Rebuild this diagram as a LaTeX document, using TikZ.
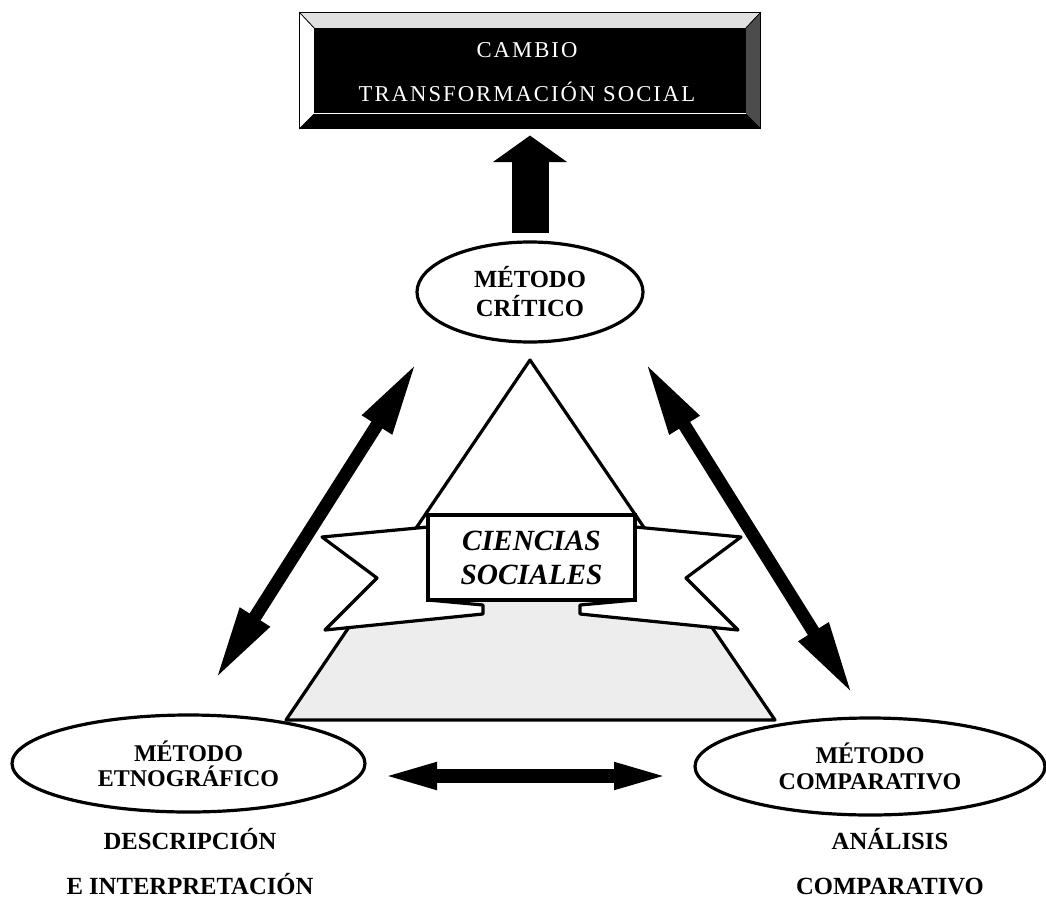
\documentclass[tikz,border=0pt]{standalone}
\usepackage{fontspec}
\setmainfont{Liberation Serif}
\newfontfamily\cadrefont[LetterSpace=9]{Liberation Serif}
\usetikzlibrary{shapes.geometric,arrows.meta}

\tikzset{
  metodo/.style={ellipse, draw, line width=2.4pt, fill=white, align=center,
    inner sep=0pt, font=\bfseries\fontsize{18}{19}\selectfont},
  etiqueta/.style={align=center, font=\bfseries\fontsize{18.5}{33.75}\selectfont},
  cadre/.style={draw, line width=0.8pt, fill=black, inner sep=0pt,
    minimum width=345pt, minimum height=86.25pt},
  titrecadre/.style={align=center, text=white, font=\cadrefont\fontsize{17}{33}\selectfont},
  ruban/.style={draw, line width=2.4pt, fill=white, line join=round},
  cartouche/.style={draw, line width=2.4pt, fill=white, inner sep=0pt,
    minimum width=155.25pt, minimum height=63.75pt, align=center,
    font=\bfseries\itshape\fontsize{22}{25.5}\selectfont},
  flechedouble/.style={line width=9.75pt,
    {Triangle[length=56pt,width=24pt]}-{Triangle[length=56pt,width=24pt]}},
  flechebas/.style={line width=10.5pt,
    {Triangle[length=48pt,width=17pt]}-{Triangle[length=48pt,width=17pt]}},
  flechehaut/.style={line width=27.75pt, -{Triangle[length=20pt,width=55pt]},
    shorten <=5.25pt, shorten >=5.25pt}
}

\begin{document}
\begin{tikzpicture}[x=0.75pt,y=-0.75pt]
    \useasboundingbox (0,0) rectangle (1046,903);
    % Triangle
    \coordinate (sommet) at (530,360);
    \coordinate (basegauche) at (286,720);
    \coordinate (basedroite) at (775,720);
    \begin{scope}
      \clip (sommet) -- (basegauche) -- (basedroite) -- cycle;
      \fill[black!7] (250,600) rectangle (800,720);
    \end{scope}
    \draw[line width=2.4pt, line join=round] (sommet) -- (basegauche) -- (basedroite) -- cycle;
    % Ruban
    \draw[ruban] (428,527) -- (322,537) -- (377,578) -- (325,630) -- (483,614) -- (483,605) -- (428,600);
    \draw[ruban] (635,527) -- (741,537) -- (686,578) -- (738,630) -- (580,614) -- (580,605) -- (635,600);
    \node[cartouche] (ciencias) at (531.5,557.5) {CIENCIAS\\SOCIALES};
    % Ellipses
    \node[metodo, minimum width=169.5pt, minimum height=75pt, font=\bfseries\fontsize{18.5}{21.75}\selectfont]
      (critico) at (530,292) {MÉTODO\\CRÍTICO};
    \node[metodo, minimum width=264.75pt, minimum height=72.75pt] (etno) at (188.5,763.5) {MÉTODO\\ETNOGRÁFICO};
    \node[metodo, minimum width=262.5pt, minimum height=72.75pt] (comp) at (870,766.5) {MÉTODO\\COMPARATIVO};
    % Cadre du haut
    \node[cadre] (cambio) at (530,70.5) {};
    \fill[black!12, draw=black, line width=0.5pt] (cambio.north west) -- (cambio.north east)
      -- ([shift={(-15,16)}]cambio.north east) -- ([shift={(15,16)}]cambio.north west) -- cycle;
    \fill[white, draw=black, line width=0.5pt] (cambio.north west) -- ([shift={(15,16)}]cambio.north west)
      -- ([shift={(15,-15)}]cambio.south west) -- (cambio.south west) -- cycle;
    \fill[black!70, draw=black, line width=0.5pt] (cambio.north east) -- ([shift={(-15,16)}]cambio.north east)
      -- ([shift={(-15,-15)}]cambio.south east) -- (cambio.south east) -- cycle;
    \fill[black] (cambio.south west) -- ([shift={(15,-15)}]cambio.south west)
      -- ([shift={(-15,-15)}]cambio.south east) -- (cambio.south east) -- cycle;
    \draw[white, line width=0.8pt] ([shift={(15,-15)}]cambio.south west) -- ([shift={(-15,-15)}]cambio.south east);
    \draw[line width=0.8pt] (cambio.north west) rectangle (cambio.south east);
    \node[titrecadre] (titre) at (527,72) {CAMBIO\\TRANSFORMACIÓN SOCIAL};
    % Fleches
    \draw[flechehaut] (critico) -- (cambio);
    \coordinate (g1) at (215,680);
    \coordinate (g2) at (417,362);
    \coordinate (d1) at (645,362);
    \coordinate (d2) at (853,695);
    \coordinate (b1) at (373,776);
    \coordinate (b2) at (678,776);
    \draw[flechedouble] (g1) -- (g2);
    \draw[flechedouble] (d1) -- (d2);
    \draw[flechebas] (b1) -- (b2);
    % Textes
    \node[etiqueta] (descripcion) at (190,862) {DESCRIPCIÓN\\E INTERPRETACIÓN};
    \node[etiqueta] (analisis) at (890,862) {ANÁLISIS\\COMPARATIVO};
\end{tikzpicture}
\end{document}
